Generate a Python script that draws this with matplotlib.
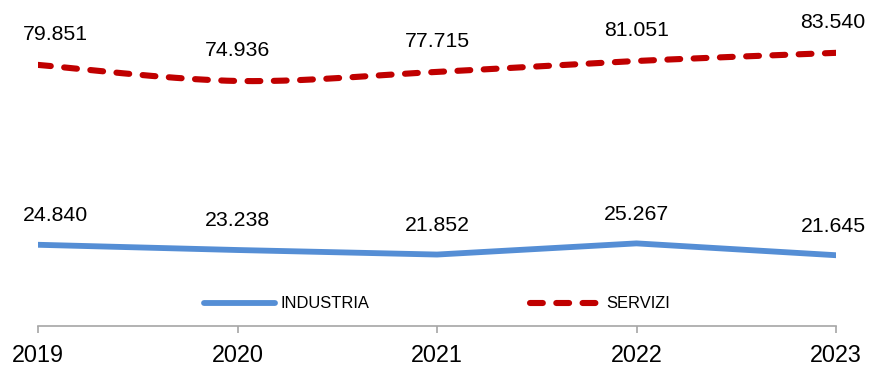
import numpy as np
import matplotlib
matplotlib.use("Agg")
from matplotlib import pyplot as plt

years = ["2019", "2020", "2021", "2022", "2023"]
industria = [24.840, 23.238, 21.852, 25.267, 21.645]
servizi = [79.851, 74.936, 77.715, 81.051, 83.540]
industria_labels = ["24.840", "23.238", "21.852", "25.267", "21.645"]
servizi_labels = ["79.851", "74.936", "77.715", "81.051", "83.540"]

plt.rcParams['font.family'] = ['Liberation Sans', 'DejaVu Sans']


#Excel-style smoothed line: cubic bezier through the points, catmull-rom control points
def smooth(x, y, n=40):
    x = np.asarray(x, float)
    y = np.asarray(y, float)
    xs, ys = [], []
    for i in range(len(x) - 1):
        p0 = np.array([x[max(i - 1, 0)], y[max(i - 1, 0)]])
        p1 = np.array([x[i], y[i]])
        p2 = np.array([x[i + 1], y[i + 1]])
        p3 = np.array([x[min(i + 2, len(x) - 1)], y[min(i + 2, len(x) - 1)]])
        c1 = p1 + (p2 - p0) / 6
        c2 = p2 - (p3 - p1) / 6
        t = np.linspace(0, 1, n)[:, None]
        pts = (1 - t)**3 * p1 + 3 * (1 - t)**2 * t * c1 + 3 * (1 - t) * t**2 * c2 + t**3 * p2
        xs.extend(pts[:, 0])
        ys.extend(pts[:, 1])
    return xs, ys


fig = plt.figure(figsize=(8.72, 3.66), dpi=100)
ax = fig.add_axes([38 / 872, 40 / 366, 798 / 872, 326 / 366])

x = np.arange(len(years))
xs, ys = smooth(x, servizi)
ax.plot(x, industria, color='#558ED5', lw=4.2, solid_capstyle='round', solid_joinstyle='round',
        label='INDUSTRIA')
ax.plot(xs, ys, color='#C00000', lw=4.4, dashes=(2.1, 2.2), dash_capstyle='round', label='SERVIZI')

shift = [17, 0, 0, 0, -3]
for i in range(len(years)):
    ax.annotate(industria_labels[i], (x[i], industria[i]), xytext=(shift[i] * 0.72, 21),
                textcoords='offset points', ha='center', va='center', fontsize=15.3, color='black')
    ax.annotate(servizi_labels[i], (x[i], servizi[i]), xytext=(shift[i] * 0.72, 22),
                textcoords='offset points', ha='center', va='center', fontsize=15.3, color='black')

ax.set_xlim(0, len(years) - 1)
ax.set_ylim(0, 99.7)
ax.set_xticks(x)
ax.set_xticklabels(years, fontsize=16.8)
ax.set_yticks([])
for s in ['top', 'right', 'left']:
    ax.spines[s].set_visible(False)
ax.spines['bottom'].set_color('#A6A6A6')
ax.spines['bottom'].set_linewidth(1.2)
ax.tick_params(axis='x', direction='out', length=5, width=1.2, color='#A6A6A6', pad=8)

ax.legend(loc='center', bbox_to_anchor=(0.5, 0.0675), ncol=2, frameon=False, fontsize=11.9,
          handlelength=4.3, handletextpad=0.35, columnspacing=9.7)

fig.savefig('out.png', dpi=100)
